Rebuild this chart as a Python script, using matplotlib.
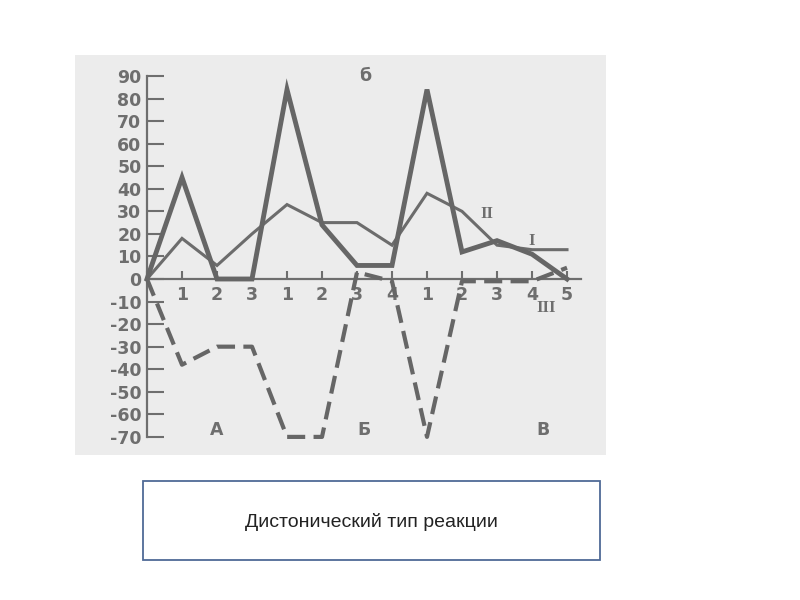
import matplotlib
matplotlib.use("Agg")
import matplotlib.pyplot as plt
from matplotlib.patches import Rectangle

plt.rcParams['font.family'] = ['DejaVu Sans']
plt.rcParams['lines.scale_dashes'] = False

# --- data ---
positions = list(range(13))
tick_labels = ["", "1", "2", "3", "1", "2", "3", "4", "1", "2", "3", "4", "5"]
series_thick = [0, 45, 0, 0, 84, 24, 6, 6, 84, 12, 17, 11, 0]
series_thin = [0, 18, 6, 20, 33, 25, 25, 15, 38, 30, 15, 13, 13]
series_dashed = [0, -38, -30, -30, -70, -70, 3, -1, -70, -1, -1, -1, 5]
y_ticks = list(range(-70, 100, 10))
group_labels = ["А", "Б", "В"]
group_label_x = [2.0, 6.2, 11.3]
series_names = ["II", "I", "III"]
series_name_pos = [(9.7, 29), (11.0, 17), (11.4, -13)]
top_label = "б"

W, H = 800, 600
fig = plt.figure(figsize=(8, 6), dpi=100)

# scanned-image background area (pixels 75..606 x 55..455)
px0, px1, py0, py1 = 75, 606, 55, 455
ax = fig.add_axes([px0 / W, 1 - py1 / H, (px1 - px0) / W, (py1 - py0) / H])
ax.set_facecolor('#ececec')

# data mapping: x=0 -> 147px, 35 px per unit; y=0 -> 279px, 2.256 px per unit
x0p, dx = 147, 35.0
y0p, dy = 279, 2.2556
ax.set_xlim((px0 - x0p) / dx, (px1 - x0p) / dx)
ax.set_ylim((y0p - py1) / dy, (y0p - py0) / dy)

gray = '#6e6e6e'
for s in ['top', 'right']:
    ax.spines[s].set_visible(False)
ax.spines['left'].set_position(('data', 0))
ax.spines['bottom'].set_position(('data', 0))
ax.spines['left'].set_bounds(-70, 90)
ax.spines['bottom'].set_bounds(0, 12.4)
for s in ['left', 'bottom']:
    ax.spines[s].set_color(gray)
    ax.spines[s].set_linewidth(1.6)

ax.set_yticks(y_ticks)
ax.set_yticklabels([str(v) for v in y_ticks])
ax.set_xticks(positions)
ax.set_xticklabels(tick_labels)
ax.tick_params(axis='y', direction='in', length=12, width=1.5, color=gray,
               labelcolor=gray, labelsize=12.5, pad=4)
ax.tick_params(axis='x', direction='in', length=6, width=1.5, color=gray,
               labelcolor=gray, labelsize=12.5, pad=5)
for lab in ax.get_xticklabels() + ax.get_yticklabels():
    lab.set_fontweight('bold')

ax.plot(positions, series_thin, color='#6c6c6c', linewidth=2.2, solid_joinstyle='miter', zorder=3)
ax.plot(positions, series_thick, color='#666666', linewidth=3.5, solid_joinstyle='miter', zorder=4)
ax.plot(positions, series_dashed, color='#666666', linewidth=3.0,
        linestyle=(0, (13, 6)), zorder=3)

tk = dict(color=gray, fontsize=12.5, fontweight='bold', ha='center', va='center')
ax.text(6.25, 90, top_label, **tk)
for lbl, gx in zip(group_labels, group_label_x):
    ax.text(gx, -67, lbl, **tk)
for nm, (nx, ny) in zip(series_names, series_name_pos):
    ax.text(nx, ny, nm, color=gray, fontsize=12, fontweight='bold', ha='center', va='center',
            family='Liberation Serif')

# caption box
bx0, bx1, by0, by1 = 143, 600, 481, 560
box = Rectangle((bx0 / W, 1 - by1 / H), (bx1 - bx0) / W, (by1 - by0) / H,
                transform=fig.transFigure, facecolor='white', edgecolor='#4f6a96',
                linewidth=1.3)
fig.patches.append(box)
fig.text(371 / W, 1 - 522 / H, "Дистонический тип реакции", ha='center', va='center',
         fontsize=14, color='#222222', family=['Liberation Sans', 'DejaVu Sans'])

fig.savefig('out.png', dpi=100)
